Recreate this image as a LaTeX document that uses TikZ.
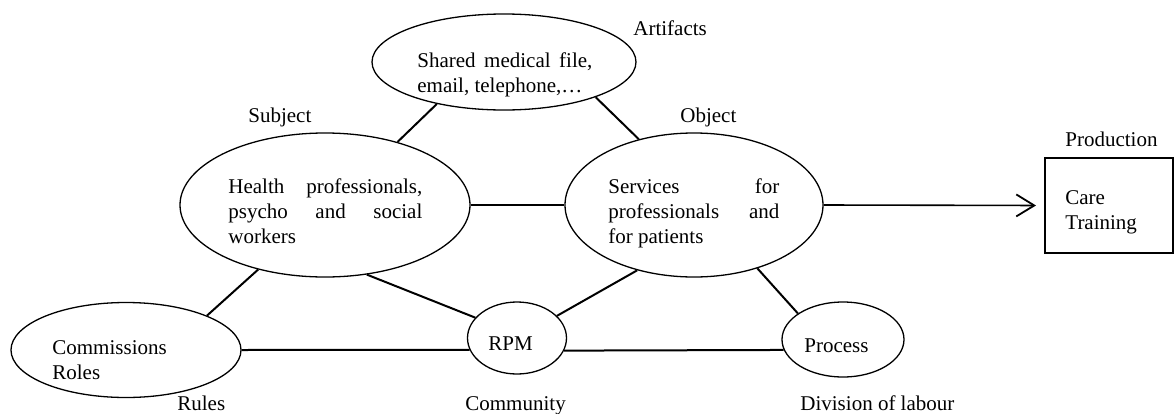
\documentclass[tikz,border=0pt]{standalone}
\usepackage{fontspec}
\setmainfont{Liberation Serif}
\usepackage{tikz}
\usetikzlibrary{shapes,arrows.meta}
\tikzset{
  blob/.style={draw, ellipse, line width=0.65pt, inner sep=0pt},
  lbl/.style={inner sep=0pt, anchor=base west},
  txt/.style={inner sep=0pt, anchor=north west, align=left},
  link/.style={line width=1pt}
}
\newcommand{\jline}[2]{\makebox[#1][s]{#2}}

\begin{document}
\begin{tikzpicture}[x=0.5pt,y=-0.5pt,font=\fontsize{10.5}{12.5}\selectfont]
      \useasboundingbox (0,0) rectangle (1174,413);
      \node[blob,minimum width=132pt,minimum height=48pt] (art) at (504,62) {};
      \node[blob,minimum width=145pt,minimum height=72pt] (subj) at (325,205) {};
      \node[blob,minimum width=129pt,minimum height=72pt] (obj) at (694,205) {};
      \node[blob,minimum width=115pt,minimum height=47.5pt] (comm) at (126,350) {};
      \node[blob,minimum width=49.5pt,minimum height=36pt] (rpm) at (517,338) {};
      \node[blob,minimum width=61pt,minimum height=37.5pt] (proc) at (843,339.5) {};
      \node[draw,line width=1pt,minimum width=64pt,minimum height=47.5pt,inner sep=0pt] (prod) at (1109,205.5) {};

      \node[txt] (arttxt) at (417,52.5) {\jline{87.5pt}{Shared medical file,}\\email, telephone,…};
      \node[txt] (subjtxt) at (228,178.5) {\jline{97pt}{Health professionals,}\\\jline{97pt}{psycho and social}\\workers};
      \node[txt] (objtxt) at (608,178.5) {\jline{85.5pt}{Services for}\\\jline{85.5pt}{professionals and}\\for patients};
      \node[txt] (commtxt) at (52,340.5) {Commissions\\Roles};
      \node[lbl] (rpmtxt) at (488,350.7) {RPM};
      \node[lbl] (proctxt) at (804,352) {Process};
      \node[txt] (prodtxt) at (1065,190) {Care\\Training};

      \node[lbl] (artlbl) at (633,35) {Artifacts};
      \node[lbl] (subjlbl) at (248,122) {Subject};
      \node[lbl] (objlbl) at (680,122) {Object};
      \node[lbl] (prodlbl) at (1065,146) {Production};
      \node[lbl] (rulelbl) at (177,410.5) {Rules};
      \node[lbl] (commlbl) at (465,410) {Community};
      \node[lbl] (divlbl) at (800,410) {Division of labour};

      \draw[link] (subj.41) -- (art.212);
      \draw[link] (art.-21) -- (obj.130);
      \draw[link] (subj.east) -- (obj.west);
      \draw[link] (subj.224) -- (comm.23);
      \draw[link] (subj.-59) -- (rpm.154);
      \draw[link] (obj.229) -- (rpm.29);
      \draw[link] (obj.-45) -- (proc.150);
      \draw[link] (comm.east) -- (rpm.194);
      \draw[link] (rpm.-15) -- (proc.190.5);
      \draw[line width=0.8pt,-{Straight Barb[length=9pt,width=11pt,line width=0.9pt]},shorten >=4pt] (obj.east) -- (prod.west);
    \end{tikzpicture}
\end{document}
